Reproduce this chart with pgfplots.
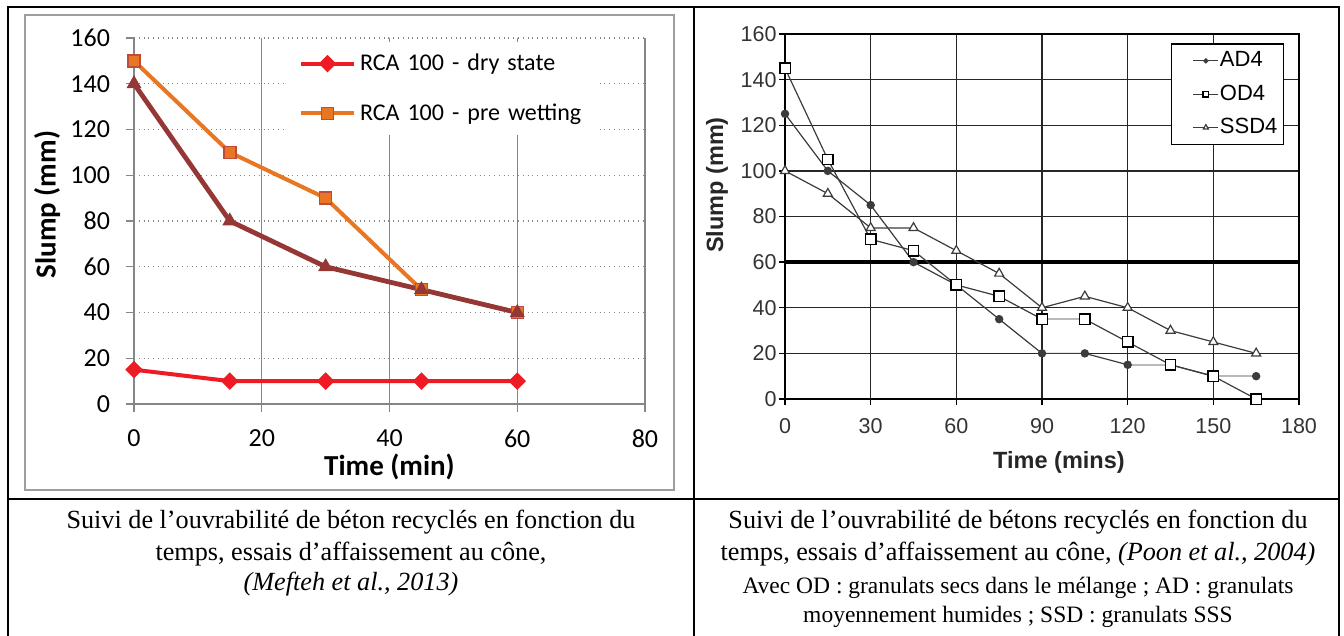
\documentclass[border=0pt]{standalone}
\usepackage{fontspec}
\setmainfont{Liberation Serif}
\newfontfamily\carlito{Carlito}
\newfontfamily\arialf{Liberation Sans}
\usepackage{pgfplots}
\pgfplotsset{compat=1.18}
\definecolor{xred}{RGB}{237,28,36}
\definecolor{xorange}{RGB}{232,118,35}
\definecolor{xorangeb}{RGB}{190,75,60}
\definecolor{xbrown}{RGB}{149,55,53}
\definecolor{xgrid}{RGB}{134,134,134}
\definecolor{dgray}{RGB}{60,60,60}
\begin{document}
\begin{tikzpicture}
\path[use as bounding box] (0pt,0pt) rectangle (672pt,-318pt);
% table rules
\draw[black, line width=1pt] (4pt,-318pt) -- (4pt,-3.5pt) -- (669.5pt,-3.5pt) -- (669.5pt,-318pt);
\draw[black, line width=1pt] (347pt,-3.5pt) -- (347pt,-318pt);
\draw[black, line width=1pt] (4pt,-249.5pt) -- (669.5pt,-249.5pt);
% left chart frame
\draw[xgrid!80, line width=0.9pt] (12.5pt,-7.5pt) rectangle (337pt,-245pt);

% ---------------- left chart ----------------
\begin{axis}[
  at={(67pt,-202pt)}, anchor=south west,
  scale only axis, width=255.5pt, height=183pt,
  xmin=0, xmax=80, ymin=0, ymax=160,
  xtick={0,20,...,80}, ytick={0,20,...,160},
  axis lines=left, axis line style={-, xgrid, line width=0.8pt},
  xmajorgrids, ymajorgrids,
  x grid style={xgrid, line width=0.6pt},
  y grid style={xgrid, dotted, line width=0.7pt},
  tick align=outside, major tick length=4pt,
  tick style={xgrid, line width=0.6pt},
  /pgf/number format/assume math mode=true,
  tick label style={font=\carlito\fontsize{13}{15}\selectfont, color=black},
  yticklabel style={xshift=-4.5pt},
  xticklabel style={yshift=-5.5pt},
  xlabel={Time (min)}, ylabel={Slump (mm)},
  label style={font=\carlito\bfseries\fontsize{14.5}{16}\selectfont},
  xlabel style={at={(axis description cs:0.5,-0.172)}, anchor=center},
  ylabel style={at={(axis description cs:-0.170,0.545)}, anchor=center},
  legend style={at={(axis cs:23.9,158.5)}, anchor=north west, draw=none, fill=white,
    font=\carlito\fontsize{12}{14}\selectfont, inner xsep=6pt, inner ysep=4pt,
    row sep=11pt,
    /tikz/every even column/.append style={text width=112pt}},
  legend cell align=left,
  legend image code/.code={\draw[mark repeat=2,mark phase=2,#1] plot coordinates {(0pt,0pt) (13.25pt,0pt) (26.5pt,0pt)};},
]
\addplot[xred, line width=2pt, mark=square*, mark size=2.1pt, mark options={rotate=45, solid, fill=xred, draw=xred}]
  coordinates {(0,15) (15,10) (30,10) (45,10) (60,10)};
\addlegendentry{RCA 100 - dry state}
\addplot[xorange, line width=2pt, mark=square*, mark size=3pt, mark options={solid, fill=xorange, draw=xorangeb, line width=0.7pt}]
  coordinates {(0,150) (15,110) (30,90) (45,50) (60,40)};
\addlegendentry{RCA 100 - pre wetting}
\addplot[xbrown, line width=2.4pt, mark=triangle*, mark size=3.8pt, mark options={solid, fill=xbrown, draw=xbrown, line width=0.5pt}, forget plot]
  coordinates {(0,140) (15,80) (30,60) (45,50) (60,40)};
\end{axis}

% ---------------- right chart ----------------
\begin{axis}[
  at={(392.5pt,-199.5pt)}, anchor=south west,
  scale only axis, width=257pt, height=182.5pt,
  xmin=0, xmax=180, ymin=0, ymax=160,
  xtick={0,30,...,180}, ytick={0,20,...,160},
  xtick pos=bottom, ytick pos=left,
  grid=major, grid style={black!85, line width=0.65pt},
  axis line style={black, line width=0.8pt},
  tick align=outside, major tick length=3pt,
  tick style={black, line width=0.7pt},
  extra y ticks={60}, extra y tick labels={},
  extra y tick style={grid style={black, line width=1.8pt}},
  /pgf/number format/assume math mode=true,
  tick label style={font=\arialf\fontsize{10.75}{12}\selectfont, color=black!80},
  yticklabel style={inner xsep=1pt},
  xticklabel style={yshift=-3pt},
  xlabel={Time (mins)}, ylabel={Slump (mm)},
  label style={font=\arialf\bfseries\fontsize{11.75}{13}\selectfont, color=black!85},
  xlabel style={at={(axis description cs:0.533,-0.173)}, anchor=center},
  ylabel style={at={(axis description cs:-0.132,0.586)}, anchor=center},
  legend style={at={(axis cs:135.2,156)}, anchor=north west, draw=black, line width=0.7pt, fill=white,
    font=\arialf\fontsize{11}{13}\selectfont, inner xsep=2.5pt, inner ysep=3pt,
    row sep=5.5pt, nodes={inner ysep=1pt, inner xsep=0.5pt}},
  legend cell align=left,
  legend image code/.code={\path (0pt,0pt); \draw[mark repeat=2,mark phase=2,#1,/tikz/every mark/.append style={scale=0.55}] plot coordinates {(8pt,0pt) (14.25pt,0pt) (20.5pt,0pt)};},
]
\addplot[dgray, line width=0.6pt, mark=*, mark size=1.8pt, mark options={solid, fill=dgray, draw=dgray}]
  coordinates {(0,125) (15,100) (30,85) (45,60) (60,50) (75,35) (90,20) (105,20) (120,15) (135,15) (150,10) (165,10)};
\addlegendentry{AD4}
\addplot[dgray, line width=0.6pt, mark=square*, mark size=2.6pt, mark options={solid, fill=white, draw=black, line width=0.7pt}]
  coordinates {(0,145) (15,105) (30,70) (45,65) (60,50) (75,45) (90,35) (105,35) (120,25) (135,15) (150,10) (165,0)};
\addlegendentry{OD4}
\addplot[dgray, line width=0.6pt, mark=triangle*, mark size=2.6pt, mark options={solid, fill=white, draw=dgray, line width=0.6pt}]
  coordinates {(0,100) (15,90) (30,75) (45,75) (60,65) (75,55) (90,40) (105,45) (120,40) (135,30) (150,25) (165,20)};
\addlegendentry{SSD4}
% lighter segments
\addplot[gray!55, line width=1pt, forget plot] coordinates {(92,35) (103,35)};
\addplot[gray!55, line width=1pt, forget plot] coordinates {(121.3,15) (133,15)};
\addplot[gray!55, line width=1pt, forget plot] coordinates {(152,10) (163.7,10)};
\end{axis}

% ---------------- captions ----------------
\begin{scope}[every node/.style={anchor=base, inner sep=0pt}]
\node[font=\fontsize{13.1}{15}\selectfont] at (175.5pt,-264pt) {Suivi de l’ouvrabilité de béton recyclés en fonction du};
\node[font=\fontsize{13.1}{15}\selectfont] at (175.5pt,-280pt) {temps, essais d’affaissement au cône,};
\node[font=\fontsize{13.1}{15}\selectfont\itshape] at (175.5pt,-295pt) {(Mefteh et al., 2013)};
\node[font=\fontsize{13.1}{15}\selectfont] at (509pt,-264pt) {Suivi de l’ouvrabilité de bétons recyclés en fonction du};
\node[font=\fontsize{13.1}{15}\selectfont] at (509pt,-280pt) {temps, essais d’affaissement au cône, \textit{(Poon et al., 2004)}};
\node[font=\fontsize{11.75}{13}\selectfont] at (509pt,-296.5pt) {Avec OD : granulats secs dans le mélange ; AD : granulats};
\node[font=\fontsize{11.75}{13}\selectfont] at (509pt,-311pt) {moyennement humides ; SSD : granulats SSS};
\end{scope}
\end{tikzpicture}
\end{document}
